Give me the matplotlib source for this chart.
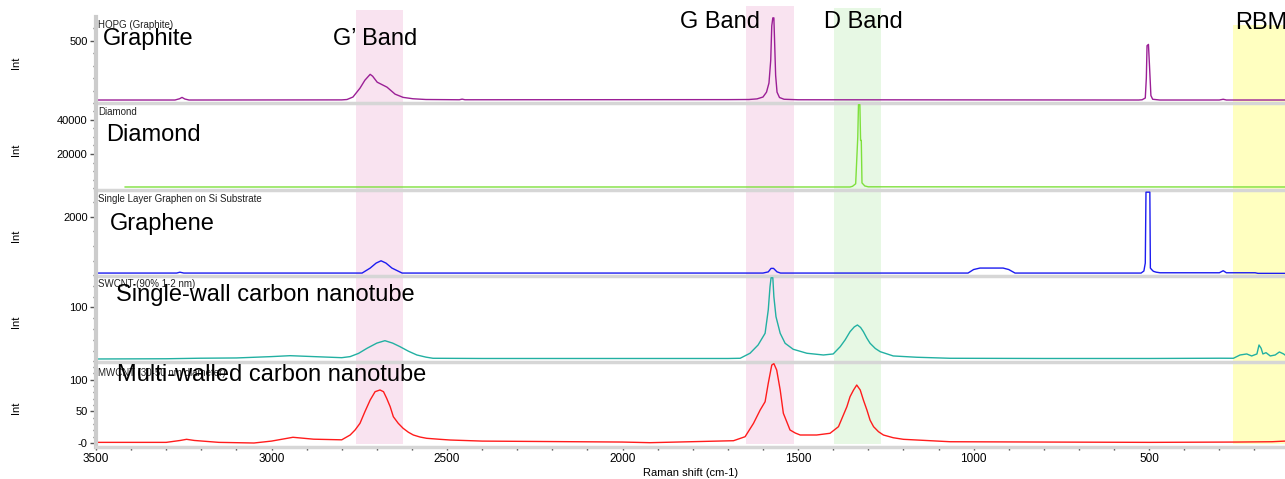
import matplotlib
matplotlib.use("Agg")
import matplotlib.pyplot as plt
from matplotlib.ticker import FixedLocator, FixedFormatter, MultipleLocator

plt.rcParams['font.family'] = ['Liberation Sans', 'DejaVu Sans']

# ---------------- data ----------------
graphite_x = [3500, 3275, 3262, 3255, 3247, 3235, 2800, 2785, 2768, 2748, 2734, 2719, 2712, 2699, 2671, 2648,
              2625, 2597, 2560, 2465, 2457, 2449, 1700, 1640, 1617, 1600, 1590, 1583, 1578, 1575, 1572, 1569,
              1567, 1564, 1560, 1553, 1540, 1500, 530, 520, 511, 508, 506, 502, 499, 497, 495, 490, 470, 300,
              289, 280, 113]
graphite_y = [24, 24, 34, 45, 32, 24, 25, 28, 48, 119, 183, 230, 215, 167, 127, 71,
              45, 34, 28, 26, 31, 26, 27, 28, 33, 48, 87, 160, 341, 619, 683, 683,
              500, 222, 87, 44, 30, 26, 24, 26, 40, 200, 460, 470, 300, 180, 60, 30, 24, 24,
              30, 24, 24]

diamond_x = [3417, 1352, 1345, 1336, 1330, 1328, 1324, 1322, 1320, 1318, 1310, 1300, 113]
diamond_y = [600, 600, 1000, 2500, 30000, 49000, 49000, 28000, 28000, 3000, 1200, 700, 600]

graphene_x = [3500, 3270, 3261, 3250, 2742, 2719, 2702, 2688, 2674, 2657, 2628, 1600, 1585, 1577, 1570,
              1560, 1550, 1016, 1000, 982, 916, 900, 882, 523, 515, 511, 509, 498, 496.5, 493, 488, 480,
              469, 300, 289, 280, 198, 190, 113]
graphene_y = [80, 80, 110, 80, 80, 249, 419, 497, 419, 249, 80, 80, 120, 239, 239,
              120, 80, 80, 200, 250, 250, 200, 80, 80, 150, 419, 2830, 2830, 250, 200, 140, 110,
              90, 90, 160, 90, 90, 70, 70]

swcnt_x = [3500, 3300, 3204, 3100, 3000, 2947, 2880, 2800, 2776, 2752, 2728, 2700, 2677, 2655, 2634, 2610,
           2586, 2560, 2540, 2400, 2000, 1700, 1665, 1637, 1614, 1594, 1585, 1580, 1577, 1572, 1569, 1563,
           1551, 1537, 1514, 1475, 1428, 1400, 1380, 1366, 1352, 1340, 1331, 1322, 1314, 1304, 1295, 1280,
           1266, 1229, 1162, 1067, 800, 500, 300, 260, 241, 222, 208, 193, 187, 181, 176, 167, 155, 141,
           129, 117, 113]
swcnt_y = [4.6, 5, 6, 6.5, 9, 10.7, 9, 7, 9, 15, 24.4, 34, 38.5, 34, 27.4, 19,
           12, 8, 5.9, 5.5, 5.5, 5.5, 5.9, 15.2, 30.5, 52.2, 95.4, 138.5, 155, 155, 120, 83,
           52.2, 33.7, 22.6, 15.2, 12, 13.9, 27.4, 40, 55.2, 64, 67.6, 63, 55.2, 43, 33.7, 24,
           18.1, 10.2, 7.8, 5.9, 5.5, 5.5, 6, 5.9, 12, 13.9, 10.2, 13.9, 30.5, 24.4, 13.9, 16.3, 10.2, 12,
           17.6, 13.9, 12]

mwcnt_x = [3500, 3300, 3260, 3242, 3220, 3150, 3050, 3000, 2939, 2880, 2800, 2776, 2762, 2748, 2734, 2719,
           2705, 2691, 2681, 2672, 2662, 2653, 2639, 2625, 2610, 2596, 2577, 2558, 2520, 2491, 2400, 2000,
           1922, 1684, 1651, 1627, 1608, 1594, 1585, 1575, 1569, 1561, 1551, 1542, 1532, 1523, 1508, 1494,
           1447, 1409, 1385, 1361, 1352, 1342, 1333, 1323, 1314, 1304, 1295, 1285, 1271, 1257, 1229, 1200,
           1067, 800, 500, 250, 150, 113]
mwcnt_y = [1, 1, 4, 5.8, 4, 1, 0, 3, 9, 6, 5, 12.6, 20.5, 31, 49.3, 67.7,
           80.8, 83.5, 80.8, 70.4, 57.2, 41.4, 31, 23.1, 16.9, 12.6, 9.4, 7.4, 5.8, 4.7, 3, 1.5,
           0.5, 3.6, 9.9, 31, 52, 65, 94, 122.8, 125, 115, 83.5, 46.8, 33, 20.5, 15.7, 12.6,
           12.6, 15.3, 25.7, 57.2, 73, 83.5, 91.3, 83.5, 67.7, 52, 36, 25.7, 17.8, 12.6, 8.3, 5.8,
           2, 1.5, 1, 1.5, 2, 3]

series_titles = ["HOPG (Graphite)", "Diamond", "Single Layer Graphen on Si Substrate",
                 "SWCNT (90% 1-2 nm)", "MWCNT (30-50 nm diameter)"]
series_names = ["Graphite", "Diamond", "Graphene", "Single-wall carbon nanotube", "Multi-walled carbon nanotube"]

y_major = [[500], [20000, 40000], [2000], [100], [0, 50, 100]]
y_major_labels = [["500"], ["20000", "40000"], ["2000"], ["100"], ["-0", "50", "100"]]

x_ticks = [3500, 3000, 2500, 2000, 1500, 1000, 500]
x_tick_labels = ["3500", "3000", "2500", "2000", "1500", "1000", "500"]

band_labels = ["G\u2019 Band", "G Band", "D Band", "RBM"]
band_ranges = [(2760, 2625), (1648, 1513), (1398, 1264), (262, 113)]

# ---------------- layout / style ----------------
W, H = 1285, 479
fig = plt.figure(figsize=(W / 100, H / 100), dpi=100)
XLIM = (3500, 113)
LEFT = 96


def fy(py):
    return 1 - py / H


band_colors = ['#f9e3f0', '#f9e3f0', '#e7f8e4', '#ffffc0']
band_tops = [10, 6, 8, 25]
band_bottom = 444

bg = fig.add_axes([LEFT / W, 0, 1 - LEFT / W, 1])
bg.set_xlim(XLIM)
bg.axis('off')
for (x0, x1), c, t in zip(band_ranges, band_colors, band_tops):
    bg.axvspan(x0, x1, ymin=fy(band_bottom), ymax=fy(t), color=c, lw=0)

panel_px = [(17, 103), (104, 190), (191, 276), (277, 362), (363, 447)]
ylims = [(0, 690), (-1170, 49400), (-20, 2870), (-1, 156.5), (-6.3, 126)]
minor_steps = [100, 5000, 500, 20, 10]
colors = ['#9b1f96', '#7ee03c', '#1c1cf0', '#22b0a2', '#ff1c1c']
xs = [graphite_x, diamond_x, graphene_x, swcnt_x, mwcnt_x]
ys = [graphite_y, diamond_y, graphene_y, swcnt_y, mwcnt_y]
title_base = [28, 115, 202, 287, 376]
name_pos = [(103, 45), (106, 141), (110, 230), (116, 301), (117, 381)]

axes = []
for i in range(5):
    top, bot = panel_px[i]
    ax = fig.add_axes([LEFT / W, fy(bot), 1 - LEFT / W, (bot - top) / H])
    ax.set_facecolor('none')
    ax.plot(xs[i], ys[i], color=colors[i], lw=1.0)
    ax.set_xlim(XLIM)
    ax.set_ylim(ylims[i])
    for s in ['top', 'right']:
        ax.spines[s].set_visible(False)
    ax.spines['left'].set_color('#cccccc')
    ax.spines['left'].set_linewidth(3)
    ax.spines['bottom'].set_color('#d6d6d6')
    ax.spines['bottom'].set_linewidth(2.5)
    ax.yaxis.set_major_locator(FixedLocator(y_major[i]))
    ax.yaxis.set_major_formatter(FixedFormatter(y_major_labels[i]))
    ax.yaxis.set_minor_locator(MultipleLocator(minor_steps[i]))
    ax.tick_params(axis='y', which='major', direction='out', length=4, width=1, color='#555555',
                   labelsize=8, pad=2)
    ax.tick_params(axis='y', which='minor', direction='out', length=2.5, width=1, color='#555555')
    ax.set_ylabel('Int', fontsize=8)
    ax.yaxis.set_label_coords(-0.063, 0.47)
    if i < 4:
        ax.tick_params(axis='x', which='both', bottom=False, labelbottom=False)
    else:
        ax.xaxis.set_major_locator(FixedLocator(x_ticks))
        ax.xaxis.set_major_formatter(FixedFormatter(x_tick_labels))
        ax.xaxis.set_minor_locator(MultipleLocator(100))
        ax.tick_params(axis='x', which='both', direction='out', length=2.5, width=1, color='#444444',
                       labelsize=8.5, pad=2)
        ax.set_xlabel('Raman shift (cm-1)', fontsize=8, labelpad=2)
    axes.append(ax)
    fig.text(98 / W, fy(title_base[i]), series_titles[i], fontsize=7, va='baseline', ha='left',
             color='#222222')
    nx, nb = name_pos[i]
    fig.text(nx / W, fy(nb), series_names[i], fontsize=17, va='baseline', ha='left')

band_label_pos = [(333, 45), (680, 28), (824, 28), (1235, 29)]
for lab, (bx, bb) in zip(band_labels, band_label_pos):
    fig.text(bx / W, fy(bb), lab, fontsize=17, va='baseline', ha='left')

fig.savefig('out.png', dpi=100)
